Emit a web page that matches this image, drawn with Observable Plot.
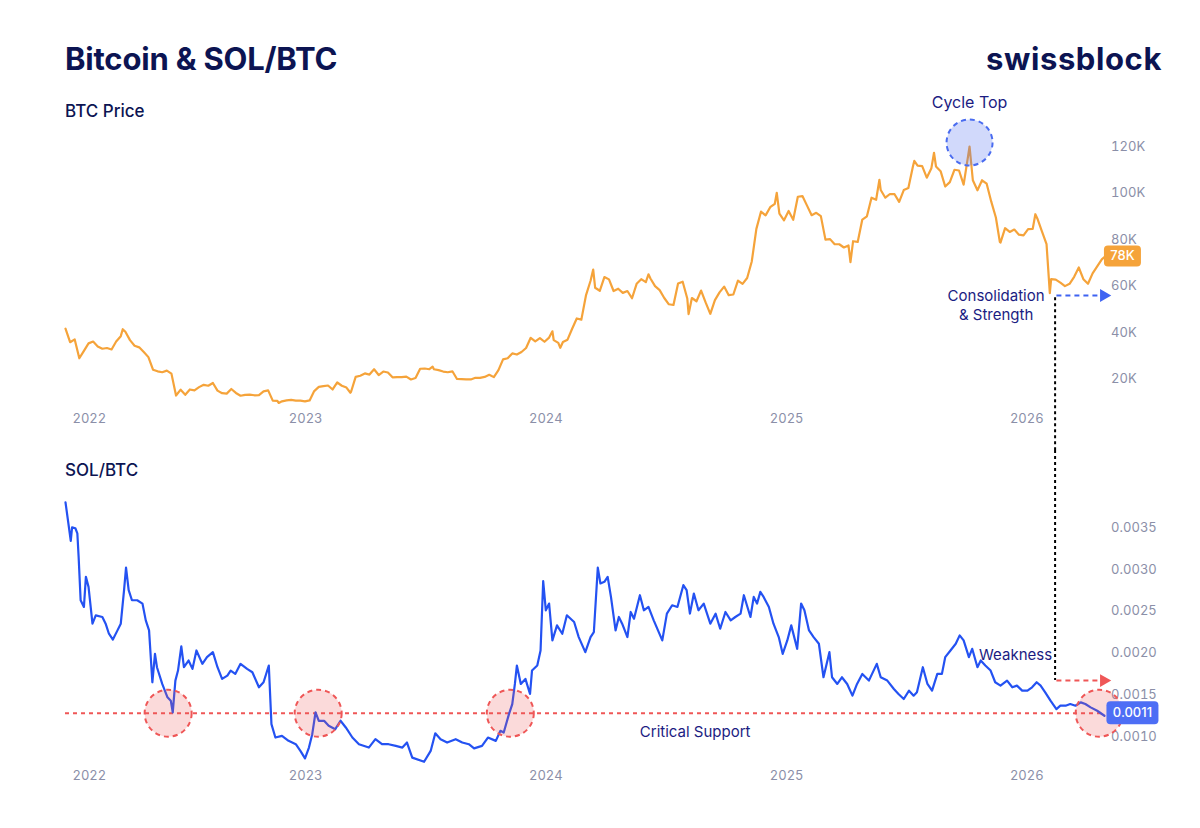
<!DOCTYPE html>
<html>
<head>
<meta charset="utf-8">
<script src="https://cdn.jsdelivr.net/npm/d3@7"></script>
<script src="https://cdn.jsdelivr.net/npm/@observablehq/plot@0.6"></script>
<style>
  body { margin: 0; background: #ffffff; }
  #root { position: relative; width: 1200px; height: 828px; overflow: hidden; font-family: Inter, "Noto Sans", sans-serif; background: #fff; }
  .lbl { position: absolute; white-space: nowrap; line-height: 1; }
</style>
</head>
<body>
<div id="root">
  <div id="p1" style="position:absolute;left:0;top:90px"></div>
  <div id="p2" style="position:absolute;left:0;top:450px"></div>
  <div class="lbl" style="left:65px;top:42.5px;font-size:31px;font-weight:700;color:#0c1452;letter-spacing:-0.2px">Bitcoin &amp; SOL/BTC</div>
  <div class="lbl" style="left:986px;top:42.6px;font-size:31px;font-weight:700;color:#0c1452;letter-spacing:0.6px">swissblock</div>
  <div class="lbl" style="left:65px;top:102.6px;font-size:17px;font-weight:500;color:#0c1452">BTC Price</div>
  <div class="lbl" style="left:65px;top:461.8px;font-size:17px;font-weight:500;color:#0c1452">SOL/BTC</div>
</div>
<script>
// ---------------- DATA ----------------
// BTC price (thousand USD), weekly readings; each year's list starts on the given date, one value per 7 days
const btc2022Start = "2022-01-01";
const btc2022 = [47.7,41.9,43.1,35.0,38.2,41.4,42.2,40.1,39.1,39.4,38.8,42.2,44.5,46.4,42.8,40.4,39.7,37.7,35.5,30.1,29.4,29.0,29.7,28.4,19.0,21.5,19.3,21.6,21.2,22.6,23.6,23.2,24.4,21.1,20.0,19.8,21.8,20.1,18.9,19.3,19.4,19.1,19.2,20.8,21.2,16.8,16.7,16.5,16.9,17.1,16.8,16.8,16.5];
const btc2023Start = "2023-01-07";
const btc2023 = [16.9,20.9,22.7,23.0,23.3,21.6,24.6,23.2,22.4,20.6,27.0,27.5,28.5,28.0,30.3,27.8,29.3,28.9,26.8,26.9,26.9,27.1,25.9,26.5,30.5,30.6,30.3,30.3,29.9,29.3,29.0,29.4,26.1,26.0,25.9,25.9,26.6,26.6,27.0,27.9,26.9,29.9,34.5,35.0,37.1,36.6,37.7,39.4,43.8,42.3,43.7,42.1];
const btc2024Start = "2024-01-06";
const btc2024 = [43.9,42.8,41.6,42.0,43.0,47.7,52.1,51.6,62.0,68.3,65.3,64.0,69.9,68.9,63.9,64.9,63.1,63.9,60.8,67.0,69.0,67.7,69.3,66.0,64.3,60.9,58.2,57.9,67.1,67.9,60.7,60.9,59.5,64.1,58.9,54.1,60.0,63.3,65.8,62.1,62.4,68.4,67.0,69.5,76.6,90.6,98.0,96.4,99.9,101.4,97.2,94.3];
const btc2025Start = "2025-01-04";
const btc2025 = [98.3,94.5,104.4,104.7,100.6,96.5,97.5,96.1,86.0,86.2,84.0,84.0,82.6,83.5,85.3,85.0,94.6,96.0,104.0,103.1,107.3,104.0,105.6,105.5,102.2,107.3,108.2,117.5,117.8,117.6,112.6,116.7,117.4,115.4,108.8,110.7,116.0,115.7,109.6,122.3,111.5,107.2,111.5,110.0,102.3,95.5,84.7,90.9,89.3,90.3,88.1,87.8];
const btc2026Start = "2026-01-03";
const btc2026 = [90.5,90.6,95.1,89.5,84.0,69.0,68.8,67.5,66.0,67.0,70.0,74.0,69.0,67.0,71.5,74.5,77.5];
// extra BTC turning points (date, thousand USD)
const btcExtremes = [["2022-03-29",47.5],["2022-11-21",15.8],["2023-03-10",20.2],["2023-07-13",31.4],["2024-01-11",46.6],["2024-01-23",39.5],["2024-03-13",73.1],["2024-06-05",71.1],["2024-08-05",54.0],["2024-12-17",106.1],["2025-04-08",76.3],["2025-05-22",111.7],["2025-07-14",119.8],["2025-08-13",123.3],["2025-10-06",126.0],["2025-11-21",85.0],["2026-01-14",96.9],["2026-02-05",63.0],["2026-04-29",78.5]];

// SOL/BTC (x 0.001): [days since 2022-01-01, value]
const solBtc = [[0,3.67],[8,3.21],[10,3.37],[15,3.36],[18,3.30],[20,3.01],[23,2.50],[28,2.42],[31,2.78],[35,2.66],[41,2.22],[46,2.32],[56,2.30],[61,2.22],[66,2.10],[72,2.03],[79,2.14],[84,2.22],[89,2.62],[92,2.89],[96,2.62],[101,2.50],[109,2.50],[117,2.46],[122,2.26],[127,2.14],[132,1.52],[136,1.86],[139,1.70],[147,1.50],[155,1.34],[160,1.30],[163,1.16],[167,1.54],[171,1.66],[176,1.95],[180,1.70],[187,1.78],[193,1.68],[199,1.90],[208,1.74],[215,1.82],[224,1.88],[231,1.70],[238,1.56],[246,1.60],[251,1.66],[258,1.62],[266,1.74],[276,1.68],[284,1.64],[294,1.46],[301,1.52],[309,1.72],[313,1.02],[319,0.86],[329,0.88],[339,0.82],[350,0.78],[357,0.70],[364,0.61],[370,0.74],[375,0.90],[380,1.16],[385,1.06],[393,1.06],[400,1.00],[410,0.96],[418,1.06],[426,0.98],[436,0.86],[446,0.78],[461,0.74],[471,0.84],[481,0.78],[491,0.78],[502,0.76],[512,0.74],[519,0.80],[527,0.62],[545,0.57],[555,0.70],[562,0.91],[570,0.84],[580,0.80],[593,0.84],[603,0.80],[613,0.78],[621,0.73],[633,0.76],[642,0.86],[654,0.82],[661,0.94],[666,0.92],[674,1.14],[679,1.26],[683,1.50],[686,1.72],[692,1.50],[699,1.56],[706,1.38],[709,1.66],[717,1.72],[722,1.90],[726,2.73],[730,2.38],[735,2.46],[740,2.02],[747,2.20],[755,2.10],[762,2.32],[773,2.24],[780,2.06],[790,1.88],[798,2.06],[803,2.12],[809,2.89],[813,2.70],[819,2.72],[824,2.78],[829,2.54],[836,2.14],[841,2.30],[846,2.22],[854,2.06],[859,2.36],[864,2.28],[873,2.56],[879,2.38],[886,2.42],[894,2.26],[907,2.02],[914,2.34],[922,2.44],[930,2.42],[939,2.68],[944,2.62],[949,2.34],[955,2.58],[962,2.38],[970,2.46],[980,2.22],[988,2.34],[995,2.16],[1003,2.36],[1011,2.26],[1018,2.30],[1026,2.34],[1031,2.56],[1041,2.30],[1046,2.54],[1051,2.46],[1056,2.60],[1061,2.54],[1069,2.42],[1076,2.22],[1084,2.06],[1090,1.86],[1097,2.02],[1103,2.20],[1112,1.92],[1118,2.46],[1123,2.38],[1130,2.14],[1137,2.06],[1145,1.98],[1152,1.58],[1161,1.88],[1165,1.58],[1173,1.50],[1180,1.58],[1188,1.50],[1196,1.36],[1203,1.50],[1211,1.62],[1221,1.54],[1233,1.74],[1239,1.58],[1249,1.54],[1259,1.44],[1266,1.38],[1274,1.32],[1282,1.42],[1289,1.36],[1294,1.40],[1303,1.70],[1310,1.50],[1317,1.42],[1325,1.62],[1332,1.62],[1337,1.82],[1345,1.90],[1353,1.98],[1359,2.08],[1365,2.02],[1373,1.82],[1378,1.92],[1386,1.70],[1391,1.78],[1398,1.72],[1406,1.66],[1413,1.52],[1421,1.48],[1431,1.54],[1439,1.46],[1446,1.48],[1454,1.42],[1462,1.42],[1469,1.46],[1476,1.52],[1482,1.48],[1489,1.40],[1497,1.30],[1506,1.20],[1512,1.24],[1520,1.24],[1527,1.26],[1535,1.24],[1543,1.28],[1550,1.26],[1558,1.22],[1568,1.18],[1579,1.12]];

// axis ticks & labels
const yearTicks = ["2022-01-01","2023-01-01","2024-01-01","2025-01-01","2026-01-01"];
const btcTicks = [20000,40000,60000,80000,100000,120000];
const solTicks = [0.0010,0.0015,0.0020,0.0025,0.0030,0.0035];
const xStart = "2022-01-01", xEnd = "2026-04-30";

// annotations
const cycleTop = {date: "2025-10-06", v: 126000, label: "Cycle Top"};
const pivotDate = "2026-02-13";              // vertical link between panels
const arrowStart = "2026-02-15", arrowLineEnd = "2026-04-24", arrowHead = "2026-04-28";
const btcArrowLevel = 62000, btcPivotLevel = 61000;
const solArrowLevel = 0.00154;
const criticalSupport = 0.00115;
const supportTests = ["2022-06-06","2023-01-20","2023-11-08","2026-04-21"];
const supportLabel = {date: "2024-08-15", text: "Critical Support"};
const weakness = {v: 0.00184, text: "Weakness"};
const consolidation = "Consolidation\n& Strength";
const btcBadge = "78K", solBadge = "0.0011";

// ---------------- BUILD ----------------
const P = d => new Date(d + "T00:00:00Z");
const t0 = P("2022-01-01");
const addDays = (dt, n) => new Date(dt.getTime() + n * 864e5);

function weekly(start, vals) { return vals.map((v, i) => ({date: addDays(P(start), 7 * i), v: v * 1000})); }
const btc = [
  ...weekly(btc2022Start, btc2022), ...weekly(btc2023Start, btc2023), ...weekly(btc2024Start, btc2024),
  ...weekly(btc2025Start, btc2025), ...weekly(btc2026Start, btc2026),
  ...btcExtremes.map(([d, v]) => ({date: P(d), v: v * 1000}))
].sort((a, b) => a.date - b.date);
const sol = solBtc.map(([d, v]) => ({date: addDays(t0, d), v: v / 1000}));
const btcLast = btc[btc.length - 1], solLast = sol[sol.length - 1];

const NAVY = "#1b1c82", ORANGE = "#f5a33a", BLUE = "#2452f2", RED = "#ef5757", TICK = "#8b8fa8";

function badge(w, h, r) {
  return {draw(ctx) {
    const x0 = -w / 2, y0 = -h / 2;
    ctx.moveTo(x0 + r, y0); ctx.lineTo(x0 + w - r, y0); ctx.arcTo(x0 + w, y0, x0 + w, y0 + r, r);
    ctx.lineTo(x0 + w, y0 + h - r); ctx.arcTo(x0 + w, y0 + h, x0 + w - r, y0 + h, r);
    ctx.lineTo(x0 + r, y0 + h); ctx.arcTo(x0, y0 + h, x0, y0 + h - r, r);
    ctx.lineTo(x0, y0 + r); ctx.arcTo(x0, y0, x0 + r, y0, r); ctx.closePath();
  }};
}

const W = 1200, ML = 65, MR = 95.4;
const xScale = {type: "utc", domain: [P(xStart), P(xEnd)]};
const style = {fontFamily: "Inter, sans-serif", fontSize: "13px", color: TICK, overflow: "visible", background: "transparent"};
const xAxes = (pad) => [
  Plot.axisX({ticks: yearTicks.slice(1).map(P), tickFormat: d3.utcFormat("%Y"), tickSize: 0, tickPadding: pad, label: null, fill: TICK, fontSize: 13}),
  Plot.axisX({ticks: yearTicks.slice(0, 1).map(P), tickFormat: d3.utcFormat("%Y"), tickSize: 0, tickPadding: pad, label: null, fill: TICK, fontSize: 13, textAnchor: "start", dx: 7})
];

// ---- top panel: BTC price
const h1 = 360, mt1 = 46.7, mb1 = 38.7;
const plot1 = Plot.plot({
  width: W, height: h1, marginLeft: ML, marginRight: MR, marginTop: mt1, marginBottom: mb1,
  style,
  x: xScale,
  y: {domain: [12000, 130000]},
  marks: [
    ...xAxes(2),
    Plot.axisY({anchor: "right", ticks: btcTicks, tickFormat: d => d / 1000 + "K", tickSize: 0, tickPadding: 6, label: null, fill: TICK, fontSize: 13, dy: -14}),
    Plot.line(btc, {x: "date", y: "v", stroke: ORANGE, strokeWidth: 2.2}),
    Plot.dot([cycleTop], {x: d => P(d.date), y: "v", r: 23, dy: -4, fill: "rgba(70,105,240,0.25)", stroke: "#4a6cf0", strokeWidth: 2, strokeDasharray: "5,4"}),
    Plot.text([cycleTop], {x: d => P(d.date), y: "v", text: "label", dy: -43.7, fill: NAVY, fontSize: 16}),
    Plot.ruleX([pivotDate], {x: d => P(d), y1: btcPivotLevel, y2: 12000, insetBottom: -mb1, stroke: "#000", strokeWidth: 2, strokeDasharray: "3,3"}),
    Plot.link([btcArrowLevel], {x1: () => P(arrowStart), x2: () => P(arrowLineEnd), y1: d => d, y2: d => d, stroke: "#3e63f2", strokeWidth: 2, strokeDasharray: "5,4"}),
    Plot.dot([btcArrowLevel], {x: () => P(arrowHead), y: d => d, symbol: "triangle", rotate: 90, r: 4.8, fill: "#3e63f2", stroke: "none"}),
    Plot.text([consolidation], {x: () => P(pivotDate), y: () => btcArrowLevel, text: d => d, dx: -59, dy: 9, lineHeight: 1.25, lineAnchor: "middle", textAnchor: "middle", fill: NAVY, fontSize: 15}),
    Plot.dot([btcLast], {x: "date", y: "v", symbol: badge(37, 21, 4), dx: 18, dy: -1, fill: ORANGE, stroke: "none"}),
    Plot.text([btcLast], {x: "date", y: "v", text: () => btcBadge, dx: 18, dy: -1, fill: "#fff", fontSize: 13, fontWeight: 500})
  ]
});
document.getElementById("p1").appendChild(plot1);

// ---- bottom panel: SOL/BTC
const h2 = 378, mt2 = 24.2, mb2 = 60.85;
const plot2 = Plot.plot({
  width: W, height: h2, marginLeft: ML, marginRight: MR, marginTop: mt2, marginBottom: mb2,
  style,
  x: xScale,
  y: {domain: [0.0005, 0.0040]},
  marks: [
    ...xAxes(3),
    Plot.axisY({anchor: "right", ticks: solTicks, tickFormat: d3.format(".4f"), tickSize: 0, tickPadding: 6, label: null, fill: TICK, fontSize: 13, dy: 11}),
    Plot.ruleY([criticalSupport], {x1: () => P(xStart), x2: () => P(xEnd), stroke: RED, strokeWidth: 2, strokeDasharray: "4,4"}),
    Plot.line(sol, {x: "date", y: "v", stroke: BLUE, strokeWidth: 2.2}),
    Plot.dot(supportTests, {x: d => P(d), y: () => criticalSupport, r: 23.5, fill: "rgba(239,87,87,0.22)", stroke: RED, strokeWidth: 2, strokeDasharray: "5,4"}),
    Plot.text([supportLabel], {x: d => P(d.date), y: () => criticalSupport, text: "text", dy: 19, fill: NAVY, fontSize: 15}),
    Plot.ruleX([pivotDate], {x: d => P(d), y1: 0.0040, y2: solArrowLevel, insetTop: -mt2, stroke: "#000", strokeWidth: 2, strokeDasharray: "3,3"}),
    Plot.link([solArrowLevel], {x1: () => P(arrowStart), x2: () => P(arrowLineEnd), y1: d => d, y2: d => d, stroke: RED, strokeWidth: 2, strokeDasharray: "5,4"}),
    Plot.dot([solArrowLevel], {x: () => P(arrowHead), y: d => d, symbol: "triangle", rotate: 90, r: 4.8, fill: RED, stroke: "none"}),
    Plot.text([weakness], {x: () => P(pivotDate), y: "v", text: "text", dx: -3, textAnchor: "end", fill: NAVY, fontSize: 15}),
    Plot.dot([solLast], {x: "date", y: "v", symbol: badge(52, 23, 4), dx: 28, dy: -3, fill: "#4d6ef5", stroke: "none"}),
    Plot.text([solLast], {x: "date", y: "v", text: () => solBadge, dx: 28, dy: -3, fill: "#fff", fontSize: 13, fontWeight: 500})
  ]
});
document.getElementById("p2").appendChild(plot2);
</script>
</body>
</html>
